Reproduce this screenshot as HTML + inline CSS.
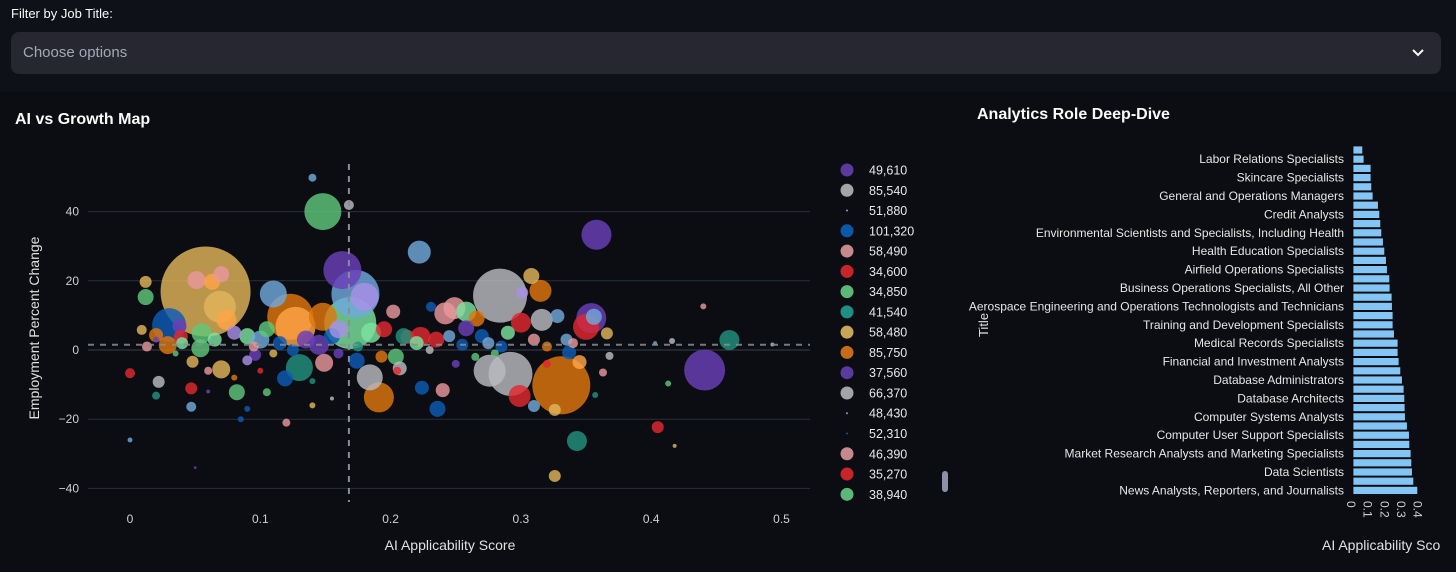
<!DOCTYPE html>
<html><head><meta charset="utf-8">
<style>
html,body{margin:0;padding:0;background:#0e1117;width:1456px;height:572px;overflow:hidden;font-family:"Liberation Sans",sans-serif;color:#fafafa}
.lbl{position:absolute;left:11px;top:6px;font-size:13px;color:#fafafa}
.sel{position:absolute;left:11px;top:32px;width:1430px;height:42px;background:#262730;border-radius:8px}
.sel span{position:absolute;left:12px;top:12px;font-size:15px;color:#a3a8b8}
svg{position:absolute;left:0;top:0}
</style></head><body>
<div class="lbl">Filter by Job Title:</div>
<div class="sel"><span>Choose options</span>
<svg width="14" height="10" style="left:1400px;top:16px"><path d="M2 2 L7 7 L12 2" stroke="#fafafa" stroke-width="2" fill="none"/></svg></div>
<svg id="chart" width="1456" height="572" style="top:0;pointer-events:none">
<rect x="0" y="92" width="1456" height="480" fill="#0b0d12"/>
<text x="15" y="124" font-size="16" font-weight="bold" fill="#fafafa">AI vs Growth Map</text>
<text x="977" y="119" font-size="16" font-weight="bold" fill="#fafafa">Analytics Role Deep-Dive</text>
<g id="scatter"></g><g id="legend"></g><g id="bars"></g>
</svg>
<script>
// ---- scatter data ----
const xs=[.058,.331,.284,.169,.173,.123,.292,.441,.127,.163,.148,.030,.069,.276,.358,.354,.191,.180,.148,.110,.130,.350,.184,.222,.315,.316,.299,.242,.249,.258,.074,.055,.300,.223,.343,.460,.054,.029,.051,.070,.149,.063,.070,.012,.308,.356,.082,.119,.174,.204,.236,.266,.258,.038,.020,.039,.202,.207,.224,.240,.328,.337,.345,.213,.012,.022,.048,.047,.193,.301,.310,.326,.326,.405,.366,.000,.009,.013,.047,.168,.231,.140,.020,.105,.363,.368,.096,.440,.416,.413,.357,.493,.418,.403,.000,.120,.050,
.09,.10,.08,.105,.115,.135,.145,.155,.185,.195,.21,.22,.235,.245,.255,.27,.275,.285,.29,.31,.32,.335,.34,.16,.04,.065,.095,.125,.09,.11,.16,.06,.035,.205,.25,.265,.08,.10,.14,.14,.09,.02,.175,.23,.28,.32,.155,.06,.085];
const ys=[16.9,-10.2,15.7,7.8,16.2,9.6,-6.9,-5.8,6.7,23.1,40,7.2,12.5,-6,33.3,9.2,-13.7,15.4,9.6,16.2,-5.1,6.7,-7.9,28.3,17.1,8.7,-13.3,10.6,12.1,11.1,8.7,4.8,7.9,3.8,-26.3,2.9,0.5,1.4,20.2,-5.6,-3.7,19.7,21.9,15.3,21.4,9.6,-12.2,-8.2,-3.1,-1.9,-17,9.1,6.3,6.9,4.3,3.8,11.1,-5.3,-10.9,-11.6,9.8,-0.7,-3.5,3.8,19.7,-9.2,-3.4,-11.1,-1.9,16.6,-16.2,-17.3,-36.4,-22.3,4.8,-6.7,5.8,1,-16.4,41.9,12.5,49.8,-13.2,-12.2,-6.5,-1.7,-1.4,12.6,2.6,-9.7,-13,1.6,-27.7,2,-26,-21,-34,
4,3,5,6,2,3,1.5,4,5,6,4,2,3,4,1.5,4,2,1,5,3,1,3,2,6,2,3,1,0,-3,-1,-1,-6,-1,-6,-4,-2,-8,-6,-9,-16,-17,3,1,0,-1,-4,-14,-12,-20];
const sizes=[2025,841,729,676,576,529,484,420,400,361,342,289,256,256,225,225,225,196,196,182,182,169,169,132,121,121,121,121,121,100,100,100,100,100,100,100,81,81,81,81,81,64,64,64,64,64,64,64,64,64,64,64,64,49,49,49,49,49,49,49,49,49,49,49,36,36,36,36,36,36,36,36,36,36,36,25,25,25,25,25,25,16,16,16,16,16,36,9,9,9,9,4,4,4,6,16,2,
64,81,49,64,49,81,100,64,100,64,64,49,64,36,36,49,36,36,49,36,25,36,25,81,36,49,25,36,25,16,25,16,9,16,16,16,9,9,9,9,9,9,25,16,16,16,4,4,9];
const groups=[7,8,1,10,9,8,1,0,11,0,5,2,7,1,0,0,8,12,8,9,6,4,1,9,8,1,4,3,3,10,11,5,4,4,6,6,5,8,3,7,3,11,3,5,7,9,5,2,2,5,2,8,0,0,8,4,3,1,2,3,9,2,11,4,7,1,7,4,8,12,9,7,7,4,7,4,7,3,9,1,2,9,6,5,3,1,0,3,1,5,6,1,7,9,9,3,0,
10,9,12,5,2,0,0,2,10,4,6,10,4,9,2,2,9,2,10,3,8,9,3,12,10,10,3,2,12,7,0,3,5,4,0,5,8,4,6,7,2,0,6,1,5,4,1,0,2];
const xTicks=[0,0.1,0.2,0.3,0.4,0.5];
const yTicks=[-40,-20,0,20,40];
const avgScore=0.168, avgGrowth=1.5;
// ---- legend data ----
const legendLabels=["49,610","85,540","51,880","101,320","58,490","34,600","34,850","41,540","58,480","85,750","37,560","66,370","48,430","52,310","46,390","35,270","38,940"];
const legendColors=["#5b3a9e","#a2a4aa","#6fa8dc","#0b57a8","#c68a8c","#c8252a","#5bb87a","#1f8f80","#c9a55a","#c66b17","#5b3a9e","#a2a4aa","#6fa8dc","#0b57a8","#c68a8c","#c8252a","#5bb87a"];
const legendTiny=[0,0,1,0,0,0,0,0,0,0,0,0,1,1,0,0,0];
// ---- bar data ----
const barLabels=["Statisticians","Labor Relations Specialists","Writers and Authors","Skincare Specialists","Management Analysts","General and Operations Managers","Logisticians","Credit Analysts","Budget Analysts","Environmental Scientists and Specialists, Including Health","Compliance Officers","Health Education Specialists","Cost Estimators","Airfield Operations Specialists","Operations Research Analysts","Business Operations Specialists, All Other","Fundraisers","Aerospace Engineering and Operations Technologists and Technicians","Human Resources Specialists","Training and Development Specialists","Accountants and Auditors","Medical Records Specialists","Personal Financial Advisors","Financial and Investment Analysts","Computer Programmers","Database Administrators","Information Security Analysts","Database Architects","Software Developers","Computer Systems Analysts","Network Architects","Computer User Support Specialists","Web Developers","Market Research Analysts and Marketing Specialists","Technical Writers","Data Scientists","Editors","News Analysts, Reporters, and Journalists"];
const barValues=[.058,.066,.108,.108,.112,.12,.152,.16,.166,.172,.182,.19,.2,.206,.22,.222,.234,.236,.24,.24,.248,.27,.27,.276,.286,.296,.306,.31,.312,.314,.326,.338,.34,.348,.352,.356,.364,.388];
const barTicks=[0,0.1,0.2,0.3,0.4];

const NS="http://www.w3.org/2000/svg";
function mk(tag,attrs,parent){const e=document.createElementNS(NS,tag);for(const k in attrs)e.setAttribute(k,attrs[k]);parent.appendChild(e);return e;}
const palette=["#6a3fb8","#b9bbc0","#0d5bb5","#e8979c","#e0282e","#5ec77a","#21917d","#e0b45a","#e0760d","#6fa8dc","#7be3a0","#ffa448","#a890e8"];
// scatter axes
const sx=v=>130+v*1303, sy=v=>350-v*3.46;
const sc=document.getElementById('scatter');
yTicks.forEach(t=>{
 const l=mk('line',{x1:88,x2:810,y1:sy(t),y2:sy(t),stroke:t===0?'#3a3f4a':'#2b2f38','stroke-width':1},sc);
 
 
 const tx=mk('text',{x:79,y:sy(t)+4,'font-size':12,fill:'#d0d0d0','text-anchor':'end'},sc);tx.textContent=t<0?'\u2212'+(-t):String(t);
 
 
});
xTicks.forEach(t=>{
 const tx=mk('text',{x:sx(t),y:523,'font-size':12,fill:'#d0d0d0','text-anchor':'middle'},sc);tx.textContent=String(t);
 
 
});
const xt=mk('text',{x:450,y:550,'font-size':14,fill:'#e0e0e0','text-anchor':'middle'},sc);xt.textContent='AI Applicability Score';


const yt=mk('text',{x:0,y:0,'font-size':14,fill:'#e0e0e0','text-anchor':'middle',transform:'translate(39,328) rotate(-90)'},sc);yt.textContent='Employment Percent Change';


const n=Math.min(xs.length,ys.length,sizes.length,groups.length);
for(let i=0;i<n;i++){
 const c=mk('circle',{cx:sx(xs[i]),cy:sy(ys[i]),r:Math.sqrt(sizes[i]),fill:palette[groups[i]],'fill-opacity':0.82},sc);
 
 
}
const vl=mk('line',{x1:sx(avgScore),x2:sx(avgScore),y1:164,y2:502,stroke:'#8a8d94','stroke-width':2,'stroke-dasharray':'6,6'},sc);


const hl=mk('line',{x1:88,x2:810,y1:sy(avgGrowth),y2:sy(avgGrowth),stroke:'#8a8d94','stroke-width':2,'stroke-dasharray':'6,6','stroke-opacity':0.85},sc);


// legend
const lg=document.getElementById('legend');
legendLabels.forEach((lab,i)=>{
 const y=170+i*20.27;
 const c=mk('circle',{cx:847,cy:y,r:legendTiny[i]?1:6.5,fill:legendColors[i]},lg);
 
 
 const t=mk('text',{x:869,y:y+4.5,'font-size':12.5,fill:'#e8e8e8'},lg);t.textContent=lab;
 
 
});
const sb=mk('rect',{x:942,y:471,width:6,height:21,rx:3,fill:'#8c91a8'},lg);


// bars
const bg=document.getElementById('bars');
const bx=v=>1353+v*166.7;
barValues.forEach((v,i)=>{
 const y=146+i*9.2;
 const r=mk('rect',{x:bx(0),y:y,width:bx(v)-bx(0),height:8,fill:'#83c5f5',stroke:'#0b0d12','stroke-width':0.8},bg);
 
 
 if(i%2===1){
  const t=mk('text',{x:1344,y:y+8,'font-size':12,fill:'#e6e6e6','text-anchor':'end'},bg);t.textContent=barLabels[i];
  
  
 }
});
barTicks.forEach(t=>{
 const tx=mk('text',{x:0,y:0,'font-size':12,fill:'#d0d0d0','text-anchor':'start',transform:`translate(${bx(t)-6},501) rotate(90)`},bg);tx.textContent=String(t);
 
 
});
const bt=mk('text',{x:1322,y:550,'font-size':14,fill:'#e0e0e0'},bg);bt.textContent='AI Applicability Sco';


const byt=mk('text',{x:0,y:0,'font-size':13,fill:'#e0e0e0','text-anchor':'middle',transform:'translate(988,325) rotate(-90)'},bg);byt.textContent='Title';


</script>
</body></html>
